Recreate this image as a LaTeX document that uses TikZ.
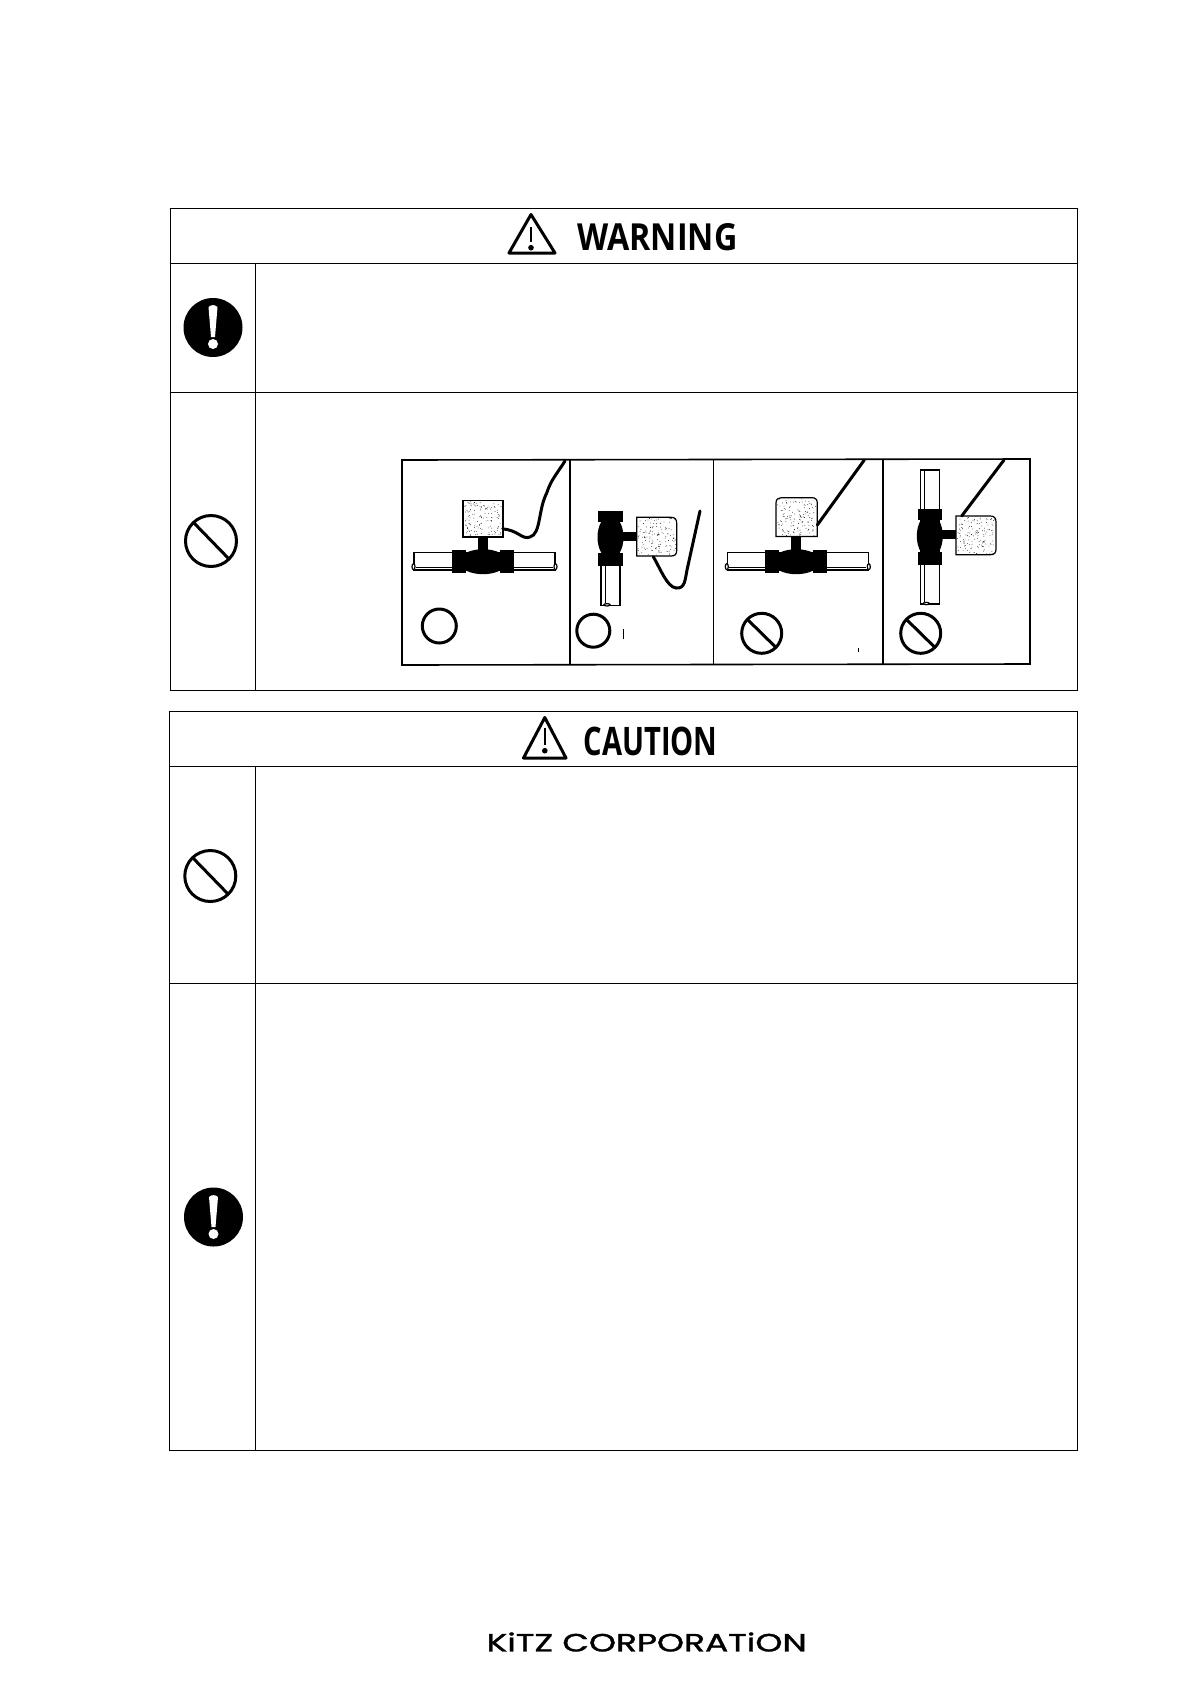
\documentclass[tikz,border=0pt]{standalone}
\usepackage{fontspec}
\usepackage{tikz}
\setmainfont{Open Sans}
\newfontfamily\logofont[FakeBold=1.2]{Poppins}

\tikzset{
  tableline/.style={line width=1pt},
  ring/.style={line width=3pt},
  cable/.style={line width=3pt,line cap=round},
  pipe/.style={draw,fill=white,line width=1.2pt},
  panelline/.style={line width=1.6pt},
  heading/.style={inner sep=0pt},
  signline/.style={line width=3pt,line join=round}
}

% speckled box of the actuator, drawn over its outline
\newcommand{\speckle}[4]{
  \foreach \k in {1,...,130}
    \fill ({#1+(#3-#1)*rnd},{#2+(#4-#2)*rnd}) circle (.4pt);
}
\newcommand{\hvalve}[2]{
  \begin{scope}[shift={(#1,#2)}]
  \draw[pipe] (-69,-9.3) rectangle (72,8.3);
  \draw[line width=.8pt] (-67,5.5) -- (70,5.5);
  \draw[pipe] (-69.5,5) ellipse (1.5 and 3);
  \draw[pipe] (72.5,5) ellipse (1.5 and 3);
  \fill (-5,-25) rectangle (4.5,0);
  \fill (-31.3,-11.7) rectangle (-17,11.7);
  \fill (17,-11.7) rectangle (31,11.7);
  \fill (0,0) ellipse (24 and 12.5);
  \end{scope}
}
\newcommand{\vvalve}[3]{
  \begin{scope}[shift={(#1,#2)}]
  \draw[pipe] (-9,#3) rectangle (10,68);
  \draw[line width=.8pt] (-5,#3) -- (-5,66);
  \draw[pipe] (-3,67.5) ellipse (3 and 1.2);
  \fill (12,-5.7) rectangle (28,3.3);
  \fill (-11.7,-26.7) rectangle (12.7,-15.7);
  \fill (-11.7,16) rectangle (12.7,28.7);
  \fill (.5,0) ellipse (13 and 22);
  \draw[pipe] (26.7,-20) -- (61,-20) .. controls (65,-20) and (66.7,-18) .. (66.7,-14) -- (66.7,13) .. controls (66.7,17) and (65,18.7) .. (61,18.7) -- (26.7,18.7) -- cycle;
  \speckle{28}{-19}{65.5}{17.7}
  \end{scope}
}

\begin{document}
\begin{tikzpicture}[x=1pt,y=-1pt]
\useasboundingbox (0,0) rectangle (1190,1684);
\pgfmathsetseed{7}

% warning table
\draw[tableline] (170.5,208.5) rectangle (1077.5,690.5);
\draw[tableline] (170.5,263.3) -- (1077.5,263.3);
\draw[tableline] (170.5,392.5) -- (1077.5,392.5);
\draw[tableline] (255.5,263.3) -- (255.5,690.5);

\draw[signline] (531,214.5) -- (555,253) -- (509,253) -- cycle;
\draw[line width=2.4pt] (531,226.7) -- (531,242);
\fill (531,247.7) circle (2.8pt);
\node[heading] (warnlabel) at (657.5,236.7) {\resizebox{160pt}{27pt}{\bfseries WARNING}};

\fill (213,327.5) circle (29.5);
\fill[white] (208.5,307) .. controls (211,304.5) and (215,304.5) .. (217.5,307) -- (215,337) -- (211,337) -- cycle;
\fill[white] (213,344) circle (5);

\draw[ring] (211,541) circle (25.5);
\draw[ring] (194,523) -- (229,559);

% installation sketches
\draw[panelline] (402,460) -- (1030,459) -- (1030,664) -- (402,665) -- cycle;
\draw[panelline] (570,460) -- (570,665);
\draw[line width=1pt] (713,460) -- (713,665);
\draw[panelline] (883,459) -- (883,664);

% panel 1
\hvalve{483}{561.7}
\draw[pipe] (463,500.5) rectangle (503,537);
\speckle{464}{501.5}{502}{536}
\draw[cable] (503,529) .. controls (518,530) and (522,540) .. (530,537) .. controls (541,534) and (538,510) .. (546.7,493) .. controls (551,480) and (556,475) .. (565,461);
\draw[ring] (439.3,626) circle (17);

% panel 2
\vvalve{610}{537.3}{16}
\draw[cable] (653.3,556.7) .. controls (660,568) and (667,587) .. (676,588) .. controls (685,589) and (685,580) .. (687,570) -- (700,511);
\draw[ring] (593.3,630.7) circle (16.5);
\draw[line width=.8pt] (623.3,629) -- (623.3,638.7);

% panel 3
\hvalve{796.3}{561.7}
\draw[pipe] (776,536.5) -- (776,503) .. controls (776,499.5) and (778,497.7) .. (781,497.7) -- (812,497.7) .. controls (815.5,497.7) and (817.3,499.5) .. (817.3,503) -- (817.3,536.5) -- cycle;
\speckle{777}{499}{816}{535.5}
\draw[cable] (817.3,525) -- (864.3,460);
\draw[ring] (761.7,633.3) circle (20);
\draw[ring] (748,620) -- (775.5,647);
\draw[line width=.8pt] (858.3,648) -- (858.3,652);

% panel 4
\vvalve{929.3}{536}{-66}
\draw[cable] (961.7,516) -- (1004,460);
\draw[ring] (920.7,633.3) circle (20);
\draw[ring] (907,620) -- (934.5,647);

% caution table
\draw[tableline] (169.7,711.7) rectangle (1077.5,1450.3);
\draw[tableline] (169.7,766.7) -- (1077.5,766.7);
\draw[tableline] (169.7,983.3) -- (1077.5,983.3);
\draw[tableline] (255.5,766.7) -- (255.5,1450.3);

\draw[signline] (544.8,717.5) -- (566,758) -- (523.5,758) -- cycle;
\draw[line width=2.4pt] (544.8,728) -- (544.8,745);
\fill (544.8,750.7) circle (2.8pt);
\node[heading] (cautlabel) at (650.5,741) {\resizebox{134pt}{28.5pt}{\bfseries CAUTION}};

\draw[ring] (210.3,876) circle (25.5);
\draw[ring] (193,858) -- (228,894);

\fill (213.5,1217) circle (29.5);
\fill[white] (209,1197) .. controls (211.5,1194.5) and (215.5,1194.5) .. (218,1197) -- (215.5,1227) -- (211.5,1227) -- cycle;
\fill[white] (213.5,1234) circle (5);

% footer
\node[heading] (logo) at (646.7,1642) {\resizebox{320pt}{19pt}{\logofont KiTZ CORPORATiON}};
\end{tikzpicture}
\end{document}
